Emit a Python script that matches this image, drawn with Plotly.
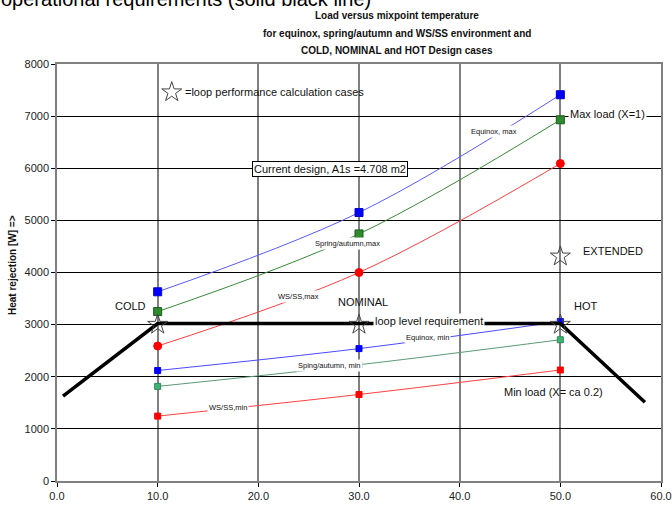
import plotly.graph_objects as go

# ---- data ----
temps = [10, 30, 50]
equinox_max = [3630, 5150, 7410]
spring_max = [3250, 4740, 6930]
wsss_max = [2590, 4000, 6090]
equinox_min = [2120, 2540, 3060]
spring_min = [1815, 2230, 2710]
wsss_min = [1245, 1660, 2130]

req_x = [0.6, 10, 50, 58.4]
req_y = [1630, 3020, 3020, 1510]

star_x = [10, 30, 50, 50]
star_y = [3000, 3000, 3000, 4310]
legend_star_x = [11.4]
legend_star_y = [7460]

x_ticks = [0, 10, 20, 30, 40, 50, 60]
y_ticks = [0, 1000, 2000, 3000, 4000, 5000, 6000, 7000, 8000]

W, H = 672, 505
ML, MR, MT, MB = 57, 11, 64, 24
PW, PH = W - ML - MR, H - MT - MB


def px(x):
    return (x - ML) / PW


def py(y):
    return (H - MB - y) / PH


FONT = "Liberation Sans, Arial, sans-serif"

fig = go.Figure()

series = [
    (equinox_max, "#5a5aff", "#0000ff", "#0000cc", "square", 8),
    (spring_max, "#3a8a3a", "#2e8b2e", "#1a5a1a", "square", 8),
    (wsss_max, "#ff4040", "#ff0000", "#ff0000", "circle", 8),
    (equinox_min, "#4a4aff", "#0000ff", "#0000ff", "square", 6),
    (spring_min, "#5a9a78", "#3cb371", "#2e8b57", "square", 6),
    (wsss_min, "#ff4040", "#ff0000", "#ff0000", "square", 6),
]
for vals, lc, mc, mlc, sym, ms in series:
    fig.add_trace(go.Scatter(
        x=temps, y=vals, mode="lines+markers",
        line=dict(color=lc, width=1, shape="spline"),
        marker=dict(symbol=sym, size=ms, color=mc, line=dict(color=mlc, width=1)),
        showlegend=False, hoverinfo="skip"))

fig.add_trace(go.Scatter(
    x=req_x, y=req_y, mode="lines", line=dict(color="black", width=3.5),
    showlegend=False, hoverinfo="skip"))

fig.add_trace(go.Scatter(
    x=star_x + legend_star_x, y=star_y + legend_star_y, mode="markers",
    marker=dict(symbol="star-open", size=15, color="#444", line=dict(width=1, color="#444")),
    showlegend=False, hoverinfo="skip"))

ann = []


def label(text, x, y, size=11, bg=None, border=None, xanchor="center", family=FONT):
    d = dict(text=text, x=x, y=y, xref="x", yref="y", showarrow=False,
             xanchor=xanchor, yanchor="middle",
             font=dict(family=family, size=size, color="#111"))
    if bg:
        d["bgcolor"] = bg
        d["borderpad"] = 1
    if border:
        d["bordercolor"] = border
        d["borderwidth"] = 1
    ann.append(d)


label("=loop performance calculation cases", 12.5, 7460, 11, xanchor="left")
label("Max load (X=1)", 54.7, 7040, 11, bg="white")
label("Equinox, max", 43.4, 6710, 7.5, bg="white")
label("Current design, A1s =4.708 m2", 27.1, 5990, 11, bg="white", border="black")
label("Spring/autumn,max", 28.9, 4550, 7.5, bg="white")
label("WS/SS,max", 24.0, 3540, 7.5, bg="white")
label("NOMINAL", 30.4, 3430, 11)
label("loop level requirement", 37.0, 3070, 11, bg="white")
label("Equinox, min", 36.8, 2750, 7.5, bg="white")
label("Sping/autumn, min", 27.1, 2210, 7.5, bg="white")
label("WS/SS,min", 17.0, 1410, 7.5, bg="white")
label("COLD", 7.3, 3350, 11)
label("HOT", 52.5, 3350, 11)
label("EXTENDED", 55.2, 4420, 11)
label("Min load (X= ca 0.2)", 49.3, 1700, 11)

# title lines
for txt, yc in [("Load versus mixpoint temperature", 15),
                ("for equinox, spring/autumn and WS/SS environment and", 33),
                ("COLD, NOMINAL and HOT Design cases", 51)]:
    ann.append(dict(text="<b>%s</b>" % txt, x=px(397), y=py(yc), xref="paper", yref="paper",
                    showarrow=False, xanchor="center", yanchor="middle",
                    font=dict(family=FONT, size=10, color="#111")))

# cut off heading from the page above
ann.append(dict(text="operational requirements (solid black line)", x=px(-1), y=py(-1),
                xref="paper", yref="paper", showarrow=False, xanchor="left", yanchor="middle",
                font=dict(family=FONT, size=20, color="black")))

# y axis title
ann.append(dict(text="<b>Heat rejection [W] =></b>", x=px(12), y=py(265), xref="paper", yref="paper",
                showarrow=False, textangle=-90, xanchor="center", yanchor="middle",
                font=dict(family=FONT, size=10, color="#111")))

fig.update_layout(
    width=W, height=H,
    margin=dict(l=ML, r=MR, t=MT, b=MB, pad=0, autoexpand=False),
    paper_bgcolor="white", plot_bgcolor="white",
    annotations=ann,
    xaxis=dict(range=[0, 60], tickvals=x_ticks, ticktext=["%.1f" % v for v in x_ticks],
               automargin=False,
               showgrid=True, gridcolor="#808080", gridwidth=1.5,
               zeroline=False, showline=True, linecolor="#808080", linewidth=1.5, mirror=True,
               ticks="outside", ticklen=4, tickcolor="black",
               tickfont=dict(family=FONT, size=11, color="#222")),
    yaxis=dict(range=[0, 8000], tickvals=y_ticks, automargin=False,
               showgrid=True, gridcolor="black", gridwidth=1,
               zeroline=True, zerolinecolor="black", zerolinewidth=1.5,
               showline=True, linecolor="#808080", linewidth=1.5, mirror=True,
               ticks="outside", ticklen=4, tickcolor="black",
               tickfont=dict(family=FONT, size=11, color="#222")),
)

fig.write_html("out.html")
